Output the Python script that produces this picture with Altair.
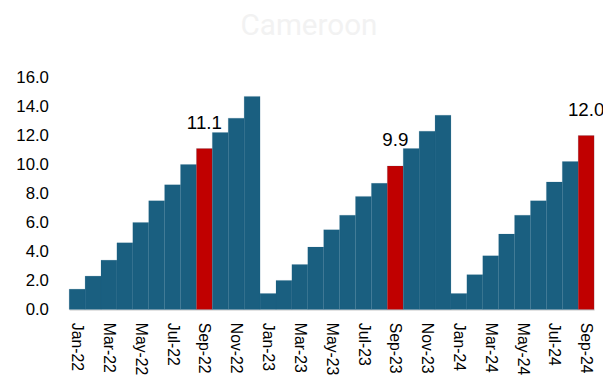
import altair as alt
import pandas as pd

months = ["Jan-22", "Feb-22", "Mar-22", "Apr-22", "May-22", "Jun-22", "Jul-22", "Aug-22",
          "Sep-22", "Oct-22", "Nov-22", "Dec-22",
          "Jan-23", "Feb-23", "Mar-23", "Apr-23", "May-23", "Jun-23", "Jul-23", "Aug-23",
          "Sep-23", "Oct-23", "Nov-23", "Dec-23",
          "Jan-24", "Feb-24", "Mar-24", "Apr-24", "May-24", "Jun-24", "Jul-24", "Aug-24",
          "Sep-24"]
values = [1.4, 2.3, 3.4, 4.6, 6.0, 7.5, 8.6, 10.0, 11.1, 12.2, 13.2, 14.7,
          1.1, 2.0, 3.1, 4.3, 5.5, 6.5, 7.8, 8.7, 9.9, 11.1, 12.3, 13.4,
          1.1, 2.4, 3.7, 5.2, 6.5, 7.5, 8.8, 10.2, 12.0]
highlight_months = ["Sep-22", "Sep-23", "Sep-24"]
axis_label_months = months[::2]
y_ticks = [0, 2, 4, 6, 8, 10, 12, 14, 16]

df = pd.DataFrame({"month": months, "value": values})
df["hl"] = df["month"].isin(highlight_months)

FONT = "Liberation Sans"

x = alt.X("month:N", sort=months,
          scale=alt.Scale(paddingInner=0, paddingOuter=0),
          axis=alt.Axis(title=None, values=axis_label_months, labelAngle=90,
                        ticks=False, domainColor="#d9d9d9", domainWidth=1.5,
                        labelPadding=13, labelFont=FONT, labelFontSize=16,
                        labelColor="#000000", labelOverlap=False))
y = alt.Y("value:Q", scale=alt.Scale(domain=[0, 16], nice=False),
          axis=alt.Axis(title=None, values=y_ticks, format=".1f", grid=False,
                        domain=False, ticks=False, labelPadding=21,
                        labelFont=FONT, labelFontSize=17, labelColor="#000000"))

bars = alt.Chart(df).mark_bar(stroke="#1a5f80", strokeWidth=0.3, strokeOpacity=0.5).encode(
    x=x, y=y,
    color=alt.condition("datum.hl", alt.value("#c00000"), alt.value("#1a5f80")),
)

labels = alt.Chart(df).transform_filter("datum.hl").mark_text(
    font=FONT, fontSize=19, color="#000000", dy=-26, baseline="middle", align="center"
).encode(x=x, y=y, text=alt.Text("value:Q", format=".1f"))

chart = alt.layer(bars, labels).properties(
    width=532, height=235,
    title=alt.TitleParams("Cameroon", font="Roboto", fontSize=30,
                          fontWeight="normal", color="#f2f2f2", anchor="middle",
                          dx=-23, offset=28),
    autosize=alt.AutoSizeParams(type="none"),
    padding={"left": 62, "top": 68, "right": 9, "bottom": 67},
).configure_view(stroke=None)

chart.save("out.html", embed_options={"renderer": "svg", "actions": False})
